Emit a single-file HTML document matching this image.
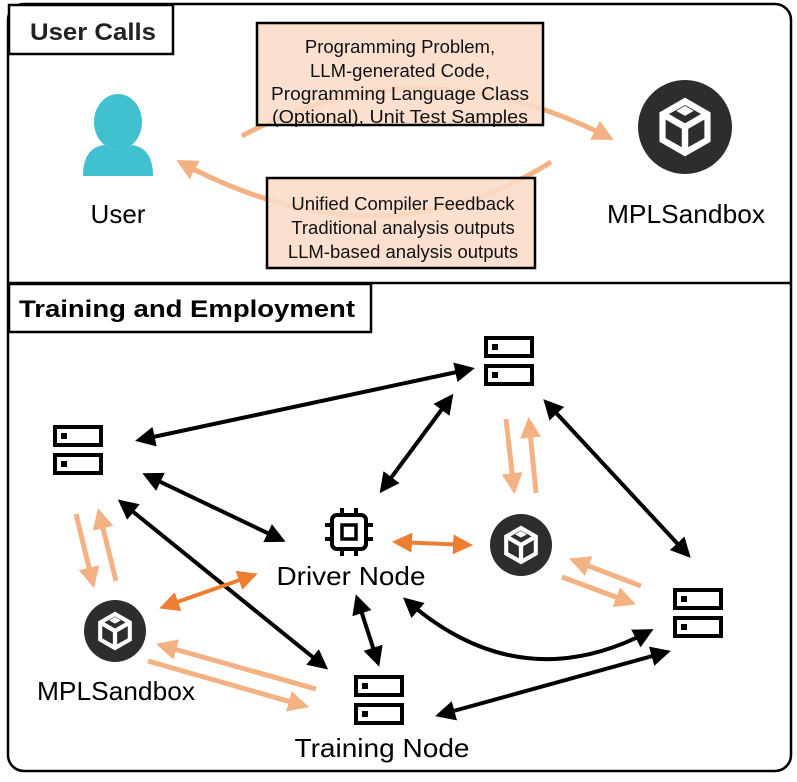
<!DOCTYPE html>
<html><head><meta charset="utf-8"><style>
html,body{margin:0;padding:0;background:#fff;}
svg{display:block;font-family:"Liberation Sans",sans-serif;}
</style></head><body>
<svg width="797" height="782" viewBox="0 0 797 782" xmlns="http://www.w3.org/2000/svg">
<defs>
<marker id="bk" viewBox="0 0 10 10" refX="8" refY="5" markerWidth="5" markerHeight="5" orient="auto-start-reverse"><path d="M0,0 L10,5 L0,10 z" fill="#000"/></marker>
<marker id="do" viewBox="0 0 10 10" refX="8" refY="5" markerWidth="5" markerHeight="5" orient="auto-start-reverse"><path d="M0,0 L10,5 L0,10 z" fill="#ed7d31"/></marker>
<marker id="lo" viewBox="0 0 10 10" refX="8" refY="5" markerWidth="4.2" markerHeight="4.2" orient="auto-start-reverse"><path d="M0,0 L10,5 L0,10 z" fill="#f4b183"/></marker>
<symbol id="sb" viewBox="-1.6 -1.6 3.2 3.2">
<circle r="1.6" fill="#2d2d2d"/>
<polygon points="0,-1 0.87,-0.5 0.87,0.5 0,1 -0.87,0.5 -0.87,-0.5" fill="#fff"/>
<polygon points="0,-0.75 0.66,-0.38 0.66,0.38 0,0.75 -0.66,0.38 -0.66,-0.38" fill="#2d2d2d"/>
<path d="M-0.66,-0.38 L0,0 L0.66,-0.38 M0,0 L0,0.75" stroke="#fff" stroke-width="0.22" fill="none"/>
<polygon points="-0.3,-0.55 0,-0.38 0.3,-0.55 0,-0.72" fill="#fff"/>
</symbol>
<symbol id="sv" viewBox="0 0 50 50">
<rect x="2" y="2" width="46" height="18" fill="none" stroke="#000" stroke-width="4"/>
<rect x="2" y="30" width="46" height="18" fill="none" stroke="#000" stroke-width="4"/>
<rect x="8" y="8" width="6" height="6" fill="#000"/>
<rect x="8" y="36" width="6" height="6" fill="#000"/>
</symbol>
</defs>

<rect x="8" y="4" width="783" height="767" rx="16" fill="#fff" stroke="#000" stroke-width="2.5"/>
<line x1="8" y1="283" x2="791" y2="283" stroke="#000" stroke-width="2.5"/>
<rect x="9" y="5" width="164" height="49" fill="#fff" stroke="#000" stroke-width="2.5"/>
<text x="30" y="40" font-size="24" font-weight="bold" fill="#222" textLength="126" lengthAdjust="spacingAndGlyphs">User Calls</text>
<rect x="9" y="284" width="362" height="48" fill="#fff" stroke="#000" stroke-width="2.5"/>
<text x="19" y="317" font-size="24" font-weight="bold" textLength="336" lengthAdjust="spacingAndGlyphs">Training and Employment</text>

<path d="M242,136 Q420,40 610,138" stroke="#f4b183" stroke-width="5" fill="none" marker-end="url(#lo)"/>
<path d="M551,162 Q380,270 180,162" stroke="#f4b183" stroke-width="5" fill="none" marker-end="url(#lo)"/>

<rect x="257" y="23" width="286" height="102" fill="#fbdcc8" fill-opacity="0.88" stroke="#000" stroke-width="2.5"/>
<g font-size="18.5" text-anchor="middle" fill="#111">
<text x="400" y="53">Programming Problem,</text>
<text x="400" y="77">LLM-generated Code,</text>
<text x="400" y="100" textLength="258" lengthAdjust="spacingAndGlyphs">Programming Language Class</text>
<text x="400" y="123" textLength="256" lengthAdjust="spacingAndGlyphs">(Optional), Unit Test Samples</text>
</g>
<rect x="267" y="178" width="268" height="90" fill="#fbdcc8" fill-opacity="0.88" stroke="#000" stroke-width="2.5"/>
<g font-size="18.5" text-anchor="middle" fill="#111">
<text x="403" y="210">Unified Compiler Feedback</text>
<text x="403" y="234">Traditional analysis outputs</text>
<text x="403" y="258">LLM-based analysis outputs</text>
</g>

<ellipse cx="118" cy="122" rx="24" ry="28" fill="#41c1cf"/>
<path d="M83,176 Q83,148 104,145 Q118,155 132,145 Q153,148 153,176 Z" fill="#41c1cf"/>
<text x="118" y="223" font-size="26" text-anchor="middle">User</text>
<use href="#sb" x="638" y="80" width="94" height="94"/>
<text x="686" y="223" font-size="26" text-anchor="middle" textLength="158" lengthAdjust="spacingAndGlyphs">MPLSandbox</text>

<use href="#sv" x="484" y="336" width="50" height="50"/>
<use href="#sv" x="53" y="425" width="50" height="50"/>
<use href="#sv" x="673" y="588" width="50" height="50"/>
<use href="#sv" x="354" y="675" width="50" height="50"/>

<g stroke="#000" stroke-width="4" fill="none">
<rect x="332" y="515" width="34" height="34" rx="5"/>
<rect x="342" y="525" width="14" height="14" stroke-width="3.5"/>
<path d="M342,508 v7 M356,508 v7 M342,549 v7 M356,549 v7 M325,525 h7 M325,539 h7 M366,525 h7 M366,539 h7"/>
</g>
<text x="351" y="585" font-size="26" text-anchor="middle" textLength="149" lengthAdjust="spacingAndGlyphs">Driver Node</text>
<use href="#sb" x="490" y="514" width="62" height="62"/>
<use href="#sb" x="84" y="600" width="62" height="62"/>
<text x="116" y="700" font-size="26" text-anchor="middle" textLength="158" lengthAdjust="spacingAndGlyphs">MPLSandbox</text>
<text x="382" y="757" font-size="26" text-anchor="middle" textLength="175" lengthAdjust="spacingAndGlyphs">Training Node</text>

<g stroke="#000" stroke-width="4" fill="none" marker-start="url(#bk)" marker-end="url(#bk)">
<line x1="139" y1="440" x2="471" y2="369"/>
<line x1="382" y1="490" x2="451" y2="397"/>
<line x1="546" y1="402" x2="688" y2="555"/>
<line x1="146" y1="475" x2="282" y2="540"/>
<line x1="121" y1="502" x2="325" y2="667"/>
<line x1="357" y1="598" x2="378" y2="663"/>
<path d="M406,600 Q520,700 650,631"/>
<line x1="439" y1="715" x2="667" y2="652"/>
</g>
<g stroke="#ed7d31" stroke-width="4" fill="none" marker-start="url(#do)" marker-end="url(#do)">
<line x1="396" y1="542" x2="469" y2="545"/>
<line x1="163" y1="607" x2="254" y2="575"/>
</g>
<g stroke="#f4b183" stroke-width="5" fill="none" marker-end="url(#lo)">
<line x1="506" y1="419" x2="514" y2="490"/>
<line x1="536" y1="493" x2="529" y2="421"/>
<line x1="76" y1="514" x2="93" y2="584"/>
<line x1="116" y1="581" x2="99" y2="512"/>
<line x1="641" y1="586" x2="573" y2="560"/>
<line x1="562" y1="577" x2="632" y2="603"/>
<line x1="316" y1="689" x2="160" y2="645"/>
<line x1="148" y1="661" x2="305" y2="706"/>
</g>
</svg>
</body></html>
